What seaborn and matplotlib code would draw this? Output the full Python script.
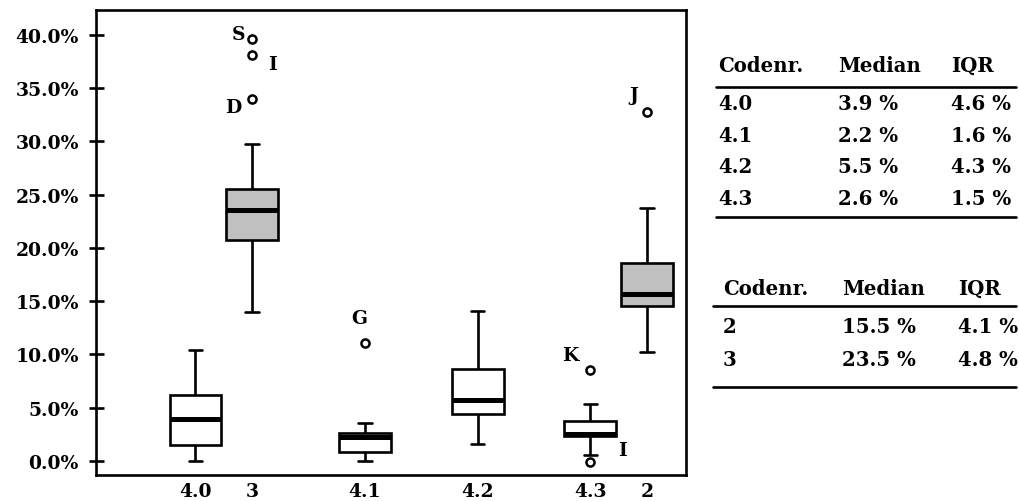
import matplotlib
matplotlib.use("Agg")
from matplotlib import pyplot as plt
from matplotlib.lines import Line2D
from matplotlib.ticker import StrMethodFormatter
import seaborn as sns
import pandas as pd

# box order along the x axis, with their slots
codes = ["4.0", "3", "4.1", "4.2", "4.3", "2"]
slots = [1, 2, 4, 6, 8, 9]
kinds = ["white", "grey", "white", "white", "white", "grey"]

# five number summaries (percent)
whisk_lo = [0.0, 14.0, 0.0, 1.6, 0.55, 10.2]
q1 = [1.5, 20.7, 0.8, 4.4, 2.3, 14.55]
median = [3.9, 23.55, 2.2, 5.7, 2.55, 15.7]
q3 = [6.15, 25.5, 2.6, 8.65, 3.75, 18.55]
whisk_hi = [10.45, 29.8, 3.55, 14.05, 5.3, 23.7]

# outliers with their labels
out_code = ["3", "3", "3", "4.1", "4.3", "4.3", "2"]
out_val = [39.6, 38.1, 34.0, 11.1, 8.5, -0.1, 32.8]
out_lab = ["S", "I", "D", "G", "K", "I", "J"]
out_off = [(-13, 5), (21, -9), (-19, -8), (-5, 25), (-20, 15), (32, 12), (-13, 17)]

# tables
tab1_code = ["4.0", "4.1", "4.2", "4.3"]
tab1_med = [3.9, 2.2, 5.5, 2.6]
tab1_iqr = [4.6, 1.6, 4.3, 1.5]
tab2_code = ["2", "3"]
tab2_med = [15.5, 23.5]
tab2_iqr = [4.1, 4.8]

sns.set_style("white")
plt.rcParams["font.family"] = ["DejaVu Serif"]
plt.rcParams["font.weight"] = "bold"
for k in ["text.color", "axes.labelcolor", "xtick.color", "ytick.color"]:
    plt.rcParams[k] = "black"
TICK_FS = 13.5
TAB_FS = 14.2

rows = []
for i, c in enumerate(codes):
    for v in [whisk_lo[i], q1[i], median[i], q3[i], whisk_hi[i]]:
        rows.append({"pos": slots[i], "val": v, "kind": kinds[i]})
df = pd.DataFrame(rows)

pos_of = dict(zip(codes, slots))
outs = pd.DataFrame({"pos": [pos_of[c] for c in out_code], "val": out_val})

fig = plt.figure(figsize=(10.19, 5.02), dpi=100)
ax = fig.add_axes([96 / 1019, 1 - 476 / 502, 590 / 1019, 465 / 502])

sns.boxplot(data=df, x="pos", y="val", hue="kind", native_scale=True,
            palette={"white": "white", "grey": "#c0c0c0"}, dodge=False,
            width=0.92, whis=(0, 100), showfliers=False, linecolor="black",
            linewidth=1.9, legend=False, ax=ax,
            medianprops=dict(linewidth=3.6, color="black"),
            capwidths=0.24)

sns.scatterplot(data=outs, x="pos", y="val", marker="o", s=34,
                facecolor="white", edgecolor="black", linewidth=1.8,
                zorder=5, ax=ax)

for c, v, lab, off in zip(out_code, out_val, out_lab, out_off):
    ax.annotate(lab, (pos_of[c], v), xytext=off, textcoords="offset pixels",
                ha="center", va="center", fontsize=TICK_FS)

ax.set_xlim(-0.763, 9.694)
ax.set_ylim(-1.34, 42.35)
ax.set_xticks(slots)
ax.set_xticklabels(codes)
ax.set_yticks(range(0, 45, 5))
ax.yaxis.set_major_formatter(StrMethodFormatter("{x:.1f}%"))
ax.set_xlabel("")
ax.set_ylabel("")
ax.tick_params(axis="y", direction="inout", length=10.8, width=1.9, pad=7,
               left=True, labelsize=TICK_FS)
ax.tick_params(axis="x", length=0, pad=5, labelsize=TICK_FS)
for s in ax.spines.values():
    s.set_linewidth(1.9)
    s.set_color("black")


def draw_table(codes_, meds, iqrs, x_cols, y_head, y_rows, y_rules, x_rule):
    W, H = 1019, 502
    for x, t in zip(x_cols, ["Codenr.", "Median", "IQR"]):
        fig.text(x / W, 1 - y_head / H, t, va="baseline", fontsize=TAB_FS)
    for c, m, q, y in zip(codes_, meds, iqrs, y_rows):
        for x, t in zip(x_cols, [c, f"{m:.1f} %", f"{q:.1f} %"]):
            fig.text(x / W, 1 - y / H, t, va="baseline", fontsize=TAB_FS)
    for y in y_rules:
        fig.add_artist(Line2D([x_rule[0] / W, x_rule[1] / W], [1 - y / H, 1 - y / H],
                              color="black", linewidth=1.9))


draw_table(tab1_code, tab1_med, tab1_iqr, [718, 838, 951], 72,
           [110, 142, 173, 205], [87.5, 217.5], [716, 1016])
draw_table(tab2_code, tab2_med, tab2_iqr, [723, 842, 958], 295,
           [333, 366], [307, 388], [713, 1016])

fig.savefig("out.png", dpi=100)
